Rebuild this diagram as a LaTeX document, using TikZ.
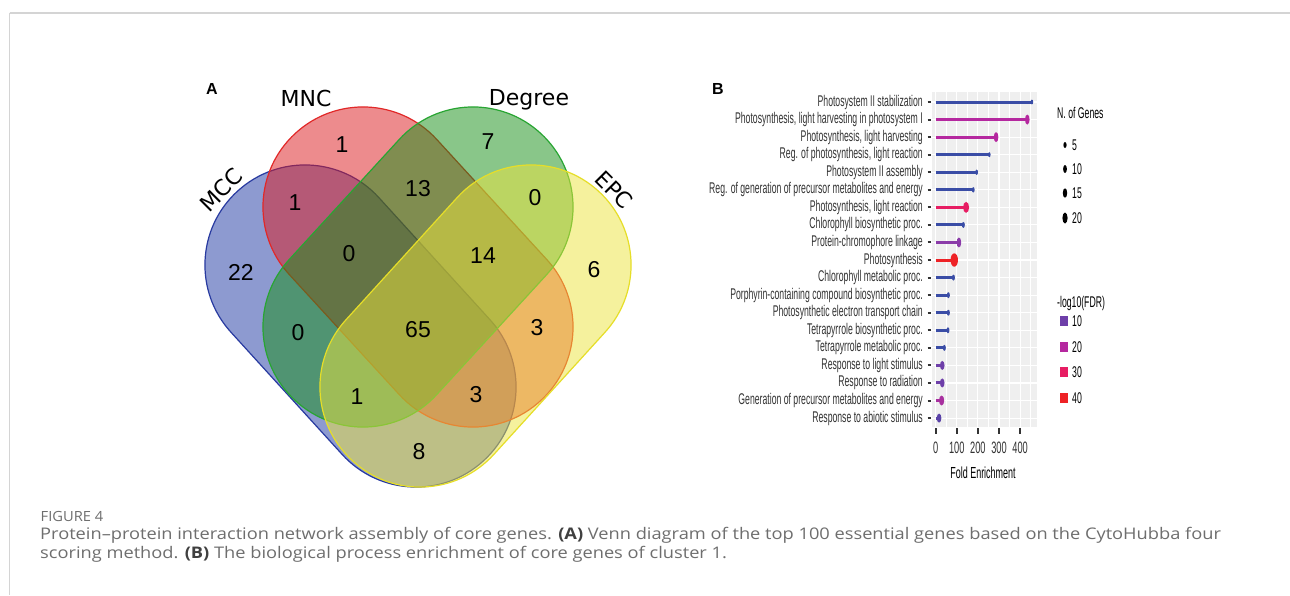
\documentclass[tikz,border=0pt]{standalone}
\usepackage{fontspec}
\setmainfont{Liberation Sans}
\newfontfamily\venlab{DejaVu Sans}
\newfontfamily\narrow[FakeStretch=0.56]{Liberation Sans}
\newfontfamily\capfont[FakeStretch=1.14]{Open Sans}
\newfontfamily\figfont[FakeStretch=1.05]{Open Sans}
\definecolor{cblue}{RGB}{29,55,163}
\definecolor{cbluel}{RGB}{40,58,160}
\definecolor{cred}{RGB}{221,25,29}
\definecolor{credl}{RGB}{225,40,40}
\definecolor{cgreen}{RGB}{21,143,21}
\definecolor{cgreenl}{RGB}{40,165,50}
\definecolor{cyel}{RGB}{237,229,61}
\definecolor{cyell}{RGB}{230,222,40}
\definecolor{lblue}{RGB}{58,77,166}
\definecolor{lmag}{RGB}{181,40,159}
\definecolor{lpink}{RGB}{231,29,99}
\definecolor{lpurp}{RGB}{139,60,169}
\definecolor{lred}{RGB}{238,34,38}
\definecolor{lpurp2}{RGB}{110,63,169}
\definecolor{lmag2}{RGB}{168,48,159}
\definecolor{lbp}{RGB}{90,66,168}
\definecolor{panelbg}{RGB}{239,239,239}
\definecolor{txtgray}{RGB}{51,51,51}
\definecolor{capgray}{RGB}{110,110,110}
\definecolor{framegray}{RGB}{212,212,212}
\newcommand\lolli[6]{%
  \pgfmathsetmacro\rowy{102+17.56*#1}%
  \pgfmathsetmacro\xend{935.7+0.211*#3}%
  \node[lab, anchor=east] (l#1) at (923,\rowy) {#2};
  \draw[ytick] (927.5,\rowy) -- (931,\rowy);
  \draw[line width=3pt, #4] (935.7,\rowy) -- (\xend,\rowy);
  \fill[#4] (\xend,\rowy) ellipse [x radius=#5, y radius=#6];}
\begin{document}
\begin{tikzpicture}[x=1pt,y=-1pt,
  vnum/.style={font=\fontsize{23}{26}\selectfont, inner sep=0pt, text=black},
  vlab/.style={font=\venlab\fontsize{22}{26}\selectfont, inner sep=0pt, text=black},
  lab/.style={font=\narrow\fontsize{15.5}{17}\selectfont, inner sep=0pt, text=txtgray},
  ytick/.style={line width=2pt, draw=txtgray},
  xtick/.style={line width=1.6pt, draw=txtgray},
  panel/.style={font=\bfseries\fontsize{16}{18}\selectfont, inner sep=0pt},
  capt/.style={font=\capfont\fontsize{16}{19}\selectfont, text=capgray, inner sep=0pt},
  venn/.style={line width=1.2pt, fill opacity=0.5}]
\useasboundingbox (0,0) rectangle (1290,595);
\fill[white] (0,0) rectangle (1290,595);
% frame
\draw[framegray, line width=1.6pt] (9.5,12.7) -- (1290,12.7);
\draw[framegray, line width=1.2pt] (9.5,12.7) -- (9.5,595);
% ---------- Venn ----------
\begin{scope}[shift={(360.5,326)}, rotate=-47.7]
  \filldraw[venn, fill=cblue, draw=cbluel, rounded corners=99.9pt] (-182.5,-100) rectangle (182.5,100);
\end{scope}
\begin{scope}[shift={(418,267)}, rotate=-47.5]
  \filldraw[venn, fill=cred, draw=credl, rounded corners=99.9pt] (-181.4,-100) rectangle (181.4,100);
\end{scope}
\begin{scope}[shift={(418,267)}, rotate=47.5]
  \filldraw[venn, fill=cgreen, draw=cgreenl, rounded corners=99.9pt] (-181.4,-100) rectangle (181.4,100);
\end{scope}
\begin{scope}[shift={(475.5,326)}, rotate=47.7]
  \filldraw[venn, fill=cyel, draw=cyell, rounded corners=99.9pt] (-182.5,-100) rectangle (182.5,100);
\end{scope}
\node[vlab, rotate=45] (mcc) at (221,190) {MCC};
\node[vlab, anchor=base] (mnc) at (306,106.5) {MNC};
\node[vlab, anchor=base] (deg) at (529,105.7) {Degree};
\node[vlab, rotate=-45] (epc) at (614,190) {EPC};
\node[vnum] (n1) at (342,145) {1};
\node[vnum] (n2) at (488,142) {7};
\node[vnum] (n3) at (295,203) {1};
\node[vnum] (n4) at (418,189) {13};
\node[vnum] (n5) at (535,198) {0};
\node[vnum] (n6) at (241,272) {22};
\node[vnum] (n7) at (349,254) {0};
\node[vnum] (n8) at (483,256) {14};
\node[vnum] (n9) at (594,270) {6};
\node[vnum] (n10) at (298,333) {0};
\node[vnum] (n11) at (418,330) {65};
\node[vnum] (n12) at (537,328) {3};
\node[vnum] (n13) at (357,397) {1};
\node[vnum] (n14) at (476,395) {3};
\node[vnum] (n15) at (419,452) {8};
\node[panel] (pa) at (212,88.5) {A};
\node[panel] (pb) at (718,88.5) {B};
% ---------- Panel B ----------
\fill[panelbg] (932,92) rectangle (1037,427);
\foreach \k in {0,...,9} {
  \pgfmathsetmacro\gx{935.7+10.55*\k}
  \pgfmathtruncatemacro\isodd{mod(\k,2)}
  \ifnum\isodd=0
    \draw[white, line width=1.1pt] (\gx,92) -- (\gx,427);
  \else
    \draw[white, line width=0.6pt] (\gx,92) -- (\gx,427);
  \fi
}
\foreach \k in {0,...,18} {
  \pgfmathsetmacro\gy{102+17.56*\k}
  \draw[white, line width=1.1pt] (932,\gy) -- (1037,\gy);
}
\lolli{0}{Photosystem II stabilization}{456}{lblue}{1.3}{2.4}
\lolli{1}{Photosynthesis, light harvesting in photosystem I}{434}{lmag}{2.3}{5}
\lolli{2}{Photosynthesis, light harvesting}{286}{lmag}{2.3}{5}
\lolli{3}{Reg. of photosynthesis, light reaction}{254}{lblue}{1.3}{2.5}
\lolli{4}{Photosystem II assembly}{194}{lblue}{1.4}{2.7}
\lolli{5}{Reg. of generation of precursor metabolites and energy}{178}{lblue}{1.4}{2.7}
\lolli{6}{Photosynthesis, light reaction}{144}{lpink}{3}{5.5}
\lolli{7}{Chlorophyll biosynthetic proc.}{131}{lblue}{1.5}{3}
\lolli{8}{Protein-chromophore linkage}{110}{lpurp}{2.3}{5}
\lolli{9}{Photosynthesis}{88}{lred}{3.7}{6.7}
\lolli{10}{Chlorophyll metabolic proc.}{84}{lblue}{1.5}{3}
\lolli{11}{Porphyrin-containing compound biosynthetic proc.}{60}{lblue}{1.5}{3}
\lolli{12}{Photosynthetic electron transport chain}{60}{lblue}{1.5}{3}
\lolli{13}{Tetrapyrrole biosynthetic proc.}{58}{lblue}{1.5}{3}
\lolli{14}{Tetrapyrrole metabolic proc.}{41}{lblue}{1.5}{3}
\lolli{15}{Response to light stimulus}{31}{lpurp2}{2.3}{4.5}
\lolli{16}{Response to radiation}{31}{lpurp2}{2.3}{4.5}
\lolli{17}{Generation of precursor metabolites and energy}{28}{lmag2}{2.6}{5}
\lolli{18}{Response to abiotic stimulus}{16}{lbp}{2.3}{4.5}
% x axis
\foreach \v in {0,100,200,300,400} {
  \pgfmathsetmacro\tx{935.7+0.211*\v}
  \draw[xtick] (\tx,428) -- (\tx,434);
  \node[lab, font=\narrow\fontsize{16.5}{18}\selectfont] (xt\v) at (\tx,448) {\v};
}
\node[lab, font=\narrow\fontsize{16}{18}\selectfont, text=black] (xlab) at (983,473) {Fold Enrichment};
% legends
\node[lab, anchor=west, text=black] (lg1) at (1057,113) {N. of Genes};
\fill[black] (1065,145) ellipse [x radius=1.6, y radius=3];
\fill[black] (1065,169) ellipse [x radius=1.9, y radius=4];
\fill[black] (1065,193) ellipse [x radius=2.2, y radius=4.7];
\fill[black] (1065,218) ellipse [x radius=2.6, y radius=5.5];
\node[lab, anchor=west, text=black] (g5) at (1072,145) {5};
\node[lab, anchor=west, text=black] (g10) at (1072,169) {10};
\node[lab, anchor=west, text=black] (g15) at (1072,193) {15};
\node[lab, anchor=west, text=black] (g20) at (1072,218) {20};
\node[lab, anchor=west, text=black] (lg2) at (1057,303) {-log10(FDR)};
\fill[lpurp2] (1059.5,316) rectangle (1068,326);
\fill[lmag] (1059.5,342) rectangle (1068,352);
\fill[lpink] (1059.5,367) rectangle (1068,377);
\fill[lred] (1059.5,393) rectangle (1068,403);
\node[lab, anchor=west, text=black] (f10) at (1072,321) {10};
\node[lab, anchor=west, text=black] (f20) at (1072,347) {20};
\node[lab, anchor=west, text=black] (f30) at (1072,372) {30};
\node[lab, anchor=west, text=black] (f40) at (1072,398) {40};
% caption
\node[capt, anchor=base west, font=\figfont\fontsize{14}{16}\selectfont] (fig) at (40.5,521.5) {FIGURE 4};
\node[capt, anchor=base west] (cap1) at (40,539) {Protein–protein interaction network assembly of core genes. {\bfseries\color{black!75}(A)} Venn diagram of the top 100 essential genes based on the CytoHubba four};
\node[capt, anchor=base west] (cap2) at (40,558) {scoring method. {\bfseries\color{black!75}(B)} The biological process enrichment of core genes of cluster 1.};
\end{tikzpicture}
\end{document}
